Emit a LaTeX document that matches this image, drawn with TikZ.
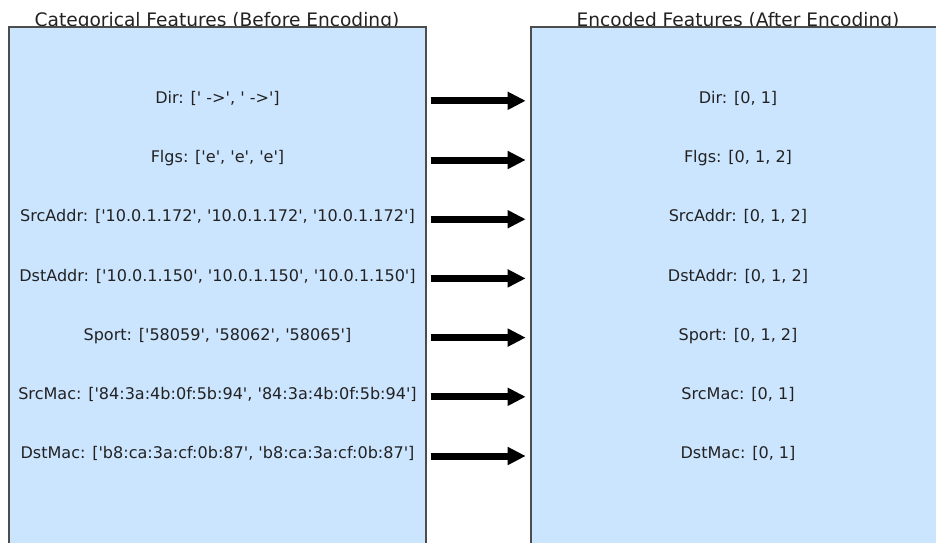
\documentclass[tikz,border=0pt]{standalone}
\usepackage{fontspec}
% plain family without TeX ligatures, so quotes stay straight
\newfontfamily\plainsans{DejaVu Sans}
\usetikzlibrary{arrows.meta}
\definecolor{panelfill}{HTML}{CCE5FF}
\definecolor{paneledge}{HTML}{4D4D4D}
\definecolor{ink}{HTML}{222222}
\tikzset{
  panel/.style={draw=paneledge, line width=1.4pt, fill=panelfill},
  paneltitle/.style={anchor=base, inner sep=0pt, text=ink, font=\plainsans\fontsize{18.6}{20}\selectfont},
  feature/.style={anchor=base, inner sep=0pt, text=ink, font=\plainsans\fontsize{16.05}{18}\selectfont},
  maparrow/.style={line width=7pt, -{Triangle[length=18pt, width=17pt]}}
}
\begin{document}
\begin{tikzpicture}[x=1pt, y=-1pt]
  \useasboundingbox (0,0) rectangle (936,542);

  % panel titles
  \node[paneltitle] (ltitle) at (217,26.5) {Categorical Features (Before Encoding)};
  \node[paneltitle] (rtitle) at (738,26.5) {Encoded Features (After Encoding)};

  % the two panels, running past the lower edge
  \path[panel] (9,27) rectangle (426,560);
  \path[panel] (531,27) rectangle (950,560);

  % feature rows: left raw values, right encoded values
  \foreach \i/\raw/\enc in {
      0/{Dir: [' ->', ' ->']}/{Dir: [0, 1]},
      1/{Flgs: ['e', 'e', 'e']}/{Flgs: [0, 1, 2]},
      2/{SrcAddr: ['10.0.1.172', '10.0.1.172', '10.0.1.172']}/{SrcAddr: [0, 1, 2]},
      3/{DstAddr: ['10.0.1.150', '10.0.1.150', '10.0.1.150']}/{DstAddr: [0, 1, 2]},
      4/{Sport: ['58059', '58062', '58065']}/{Sport: [0, 1, 2]},
      5/{SrcMac: ['84:3a:4b:0f:5b:94', '84:3a:4b:0f:5b:94']}/{SrcMac: [0, 1]},
      6/{DstMac: ['b8:ca:3a:cf:0b:87', 'b8:ca:3a:cf:0b:87']}/{DstMac: [0, 1]}} {
    \pgfmathsetmacro{\ya}{100.8+59.2*\i}
    \pgfmathsetmacro{\yb}{\ya+2.6}
    \node[feature] (raw\i) at (217.5,\yb) {\raw};
    \node[feature] (enc\i) at (738,\yb) {\enc};
    \coordinate (from\i) at (430.5,\ya);
    \coordinate (to\i) at (525.7,\ya);
    \draw[maparrow] (from\i) -- (to\i);
  }
\end{tikzpicture}
\end{document}
